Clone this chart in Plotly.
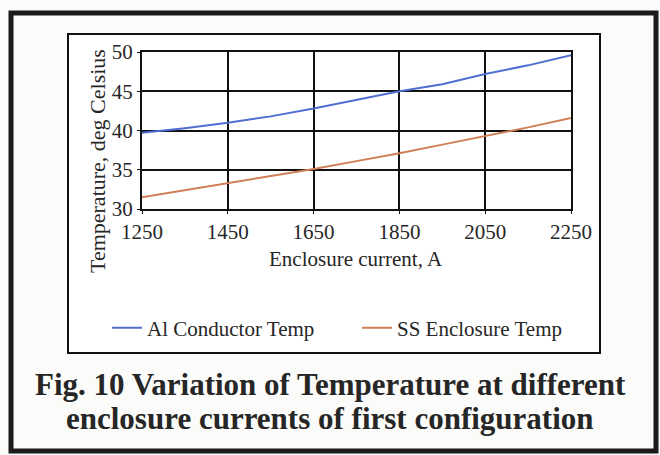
import plotly.graph_objects as go

current = [1250, 1350, 1450, 1550, 1650, 1750, 1850, 1950, 2050, 2150, 2250]
al_conductor = [39.7, 40.3, 41.0, 41.8, 42.8, 43.9, 45.0, 45.9, 47.2, 48.3, 49.6]
ss_enclosure = [31.5, 32.4, 33.3, 34.2, 35.1, 36.1, 37.1, 38.2, 39.3, 40.4, 41.6]
x_ticks = [1250, 1450, 1650, 1850, 2050, 2250]
y_ticks = [30, 35, 40, 45, 50]
caption_lines = ["Fig. 10 Variation of Temperature at different",
                 "enclosure currents of first configuration"]

W, H = 660, 455
L, R, T, B = 142, 571, 52, 209
pw, ph = R - L, B - T

def px(x):
    return (x - L) / pw

def py(y):
    return (B - y) / ph

FONT = "Times New Roman, Liberation Serif, serif"
TXT = "#262626"
fig = go.Figure()
fig.add_trace(go.Scatter(x=current, y=al_conductor, mode="lines", name="Al Conductor Temp",
                         line=dict(color="#4f6fd2", width=2), legend="legend"))
fig.add_trace(go.Scatter(x=current, y=ss_enclosure, mode="lines", name="SS Enclosure Temp",
                         line=dict(color="#cf7f55", width=2), legend="legend2"))

leg_common = dict(yanchor="middle", xanchor="left", bgcolor="rgba(0,0,0,0)",
                  font=dict(family=FONT, size=21, color=TXT))

annotations = [
    dict(text="Enclosure current, A", xref="paper", yref="paper", x=px(356), y=py(259),
         showarrow=False, font=dict(family=FONT, size=21, color=TXT),
         xanchor="center", yanchor="middle"),
    dict(text="Temperature, deg Celsius", xref="paper", yref="paper", x=px(97), y=py(161),
         showarrow=False, textangle=-90, font=dict(family=FONT, size=22, color=TXT),
         xanchor="center", yanchor="middle"),
]
for line_text, yy in zip(caption_lines, [385, 418]):
    annotations.append(dict(text="<b>" + line_text + "</b>", xref="paper", yref="paper",
                            x=px(330), y=py(yy), showarrow=False,
                            font=dict(family=FONT, size=31, color=TXT),
                            xanchor="center", yanchor="middle"))

fig.update_layout(
    width=W, height=H,
    margin=dict(l=L, r=W - R, t=T, b=H - B, pad=0),
    paper_bgcolor="#fbfbf9", plot_bgcolor="white",
    font=dict(family=FONT, size=21, color=TXT),
    showlegend=True,
    legend=dict(x=px(107), y=py(328), **leg_common),
    legend2=dict(x=px(357), y=py(328), **leg_common),
    xaxis=dict(range=[1250, 2250], tickvals=x_ticks, showgrid=True, gridcolor="#111", gridwidth=2,
               showline=True, linecolor="#111", linewidth=2, mirror=True, zeroline=False,
               ticks="outside", ticklen=3, tickcolor="#111",
               tickfont=dict(family=FONT, size=21, color=TXT)),
    yaxis=dict(range=[30, 50], tickvals=y_ticks, showgrid=True, gridcolor="#111", gridwidth=2,
               showline=True, linecolor="#111", linewidth=2, mirror=True, zeroline=False,
               ticks="outside", ticklen=3, tickcolor="#111",
               tickfont=dict(family=FONT, size=21, color=TXT)),
    shapes=[
        dict(type="rect", xref="paper", yref="paper", x0=px(11), x1=px(656), y0=py(451), y1=py(13),
             line=dict(color="#1a1a1a", width=5), layer="below"),
        dict(type="rect", xref="paper", yref="paper", x0=px(68), x1=px(600), y0=py(353), y1=py(34),
             line=dict(color="#111", width=2), fillcolor="white", layer="below"),
    ],
    annotations=annotations,
)

fig.write_html("out.html")
